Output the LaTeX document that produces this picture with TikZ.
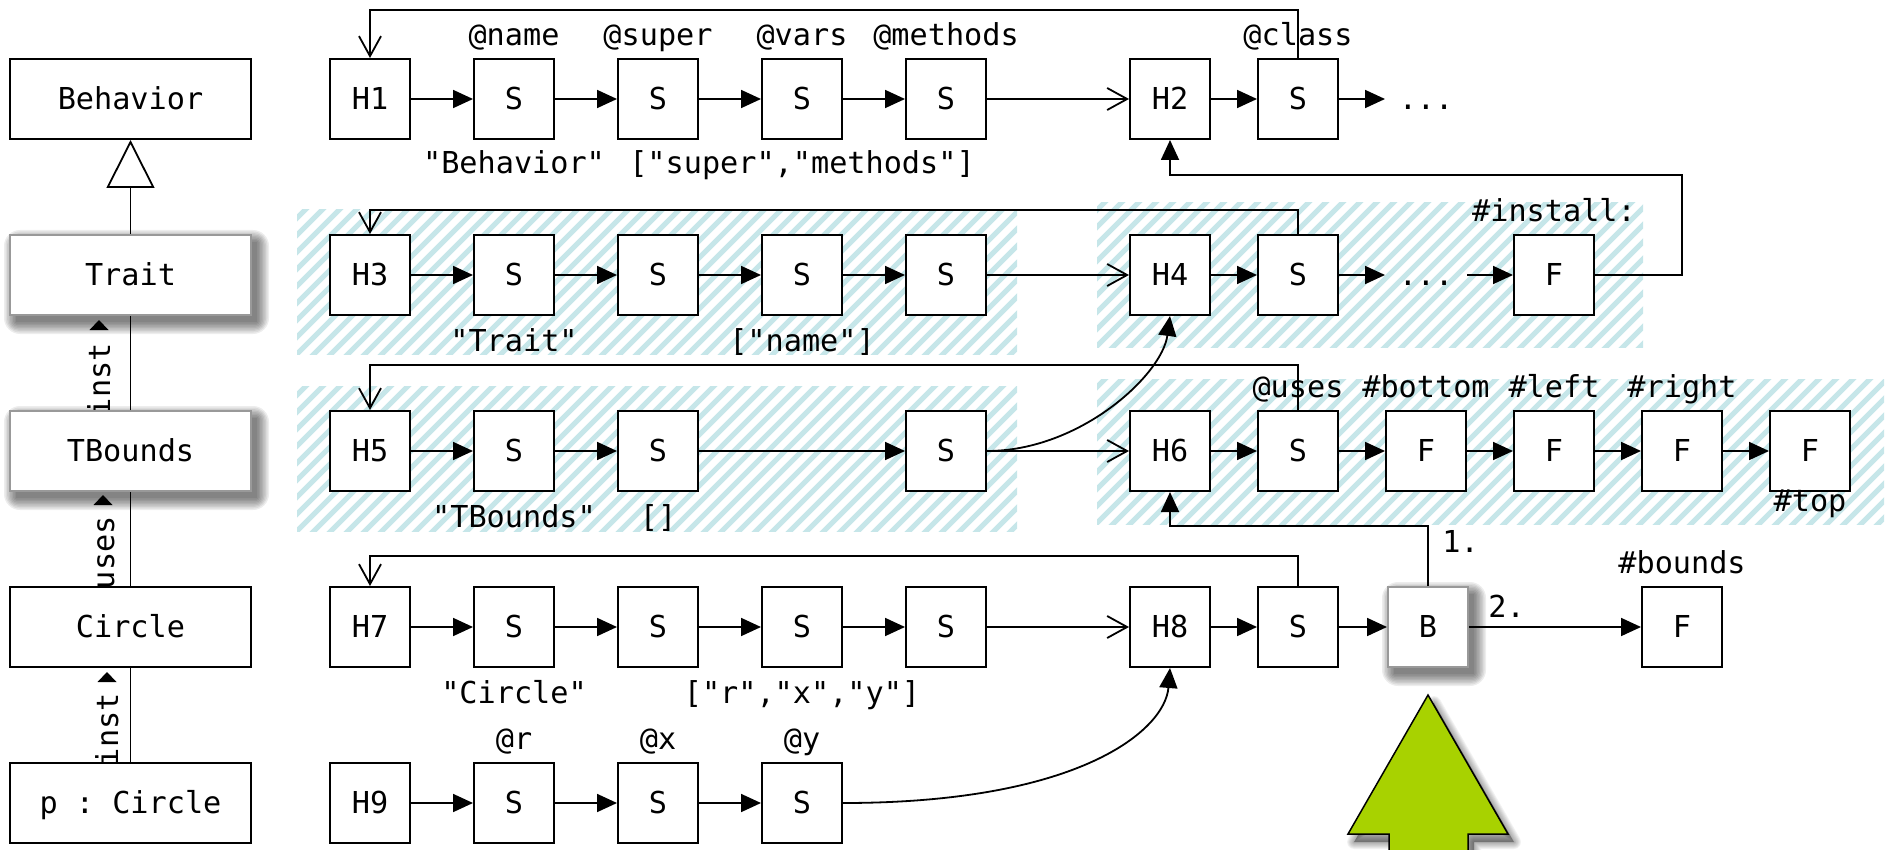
\documentclass[tikz,border=0pt]{standalone}
\usepackage{fontspec}
\setmonofont{DejaVu Sans Mono}
\usetikzlibrary{arrows.meta,calc}
\definecolor{hatchc}{HTML}{C6E6E9}
\definecolor{leaf}{HTML}{A8D200}
\definecolor{edgegray}{HTML}{999999}
\newcommand{\dfs}{\ttfamily\fontsize{15.1pt}{18pt}\selectfont}
\newcommand{\hatchreg}[4]{%
  \begin{scope}
    \clip (#1,#2) rectangle (#3,#4);
    \foreach \t in {100,117,...,1900} {\draw[hatchc,line width=2.6pt] (\t,#4+10) -- ++(200,-200);}
  \end{scope}}
\newcommand{\softbox}[4]{%
  \foreach \k in {0,...,8} {\fill[black,opacity=0.07,rounded corners=\k pt] ({#1+6-1.5*\k},{#2+7-1.5*\k}) rectangle ({#3+6+1.5*\k},{#4+7+1.5*\k});}}
\begin{document}
\begin{tikzpicture}[x=0.5pt,y=-0.5pt,
  cell/.style={draw=black,line width=1pt,fill=white,minimum width=40pt,minimum height=40pt,inner sep=0pt,text height=10.9pt,text depth=0pt,font=\dfs},
  ghost/.style={cell,draw=none,fill=none},
  uml/.style={cell,minimum width=120.5pt},
  lbl/.style={font=\dfs,inner sep=0pt},
  fa/.style={line width=0.9pt,-{Triangle[length=10pt,width=9pt]}},
  oa/.style={line width=0.9pt,-{Straight Barb[length=10pt,width=11pt]}},
  ln/.style={line width=0.9pt}]
\useasboundingbox (0,0) rectangle (1888,850);

% hatched areas
\hatchreg{297}{210}{1017}{354}
\hatchreg{1097}{203}{1643}{347}
\hatchreg{297}{386}{1017}{531}
\hatchreg{1097}{379}{1884}{524}

% soft shadows
\softbox{10}{235}{251}{315}
\softbox{10}{411}{251}{491}
\softbox{1388}{587}{1468}{667}

% rotated association labels (partly hidden by the boxes)
\node[lbl,rotate=90,anchor=base east] (lab1) at (110,343) {inst};
\fill (99,320) -- (108.5,330) -- (89.5,330) -- cycle;
\node[lbl,rotate=90,anchor=base east] (lab2) at (114,516) {uses};
\fill (103,495) -- (112.5,505) -- (93.5,505) -- cycle;
\node[lbl,rotate=90,anchor=base east] (lab3) at (118,693) {inst};
\fill (107,672) -- (116.5,682) -- (97.5,682) -- cycle;

% left column
\node[uml] (beh) at (130.5,99) {Behavior};
\node[uml,draw=edgegray] (trait) at (130.5,275) {Trait};
\node[uml,draw=edgegray] (tbnd) at (130.5,451) {TBounds};
\node[uml] (circ) at (130.5,627) {Circle};
\node[uml] (pcirc) at (130.5,803) {p : Circle};
\draw[line width=0.9pt,-{Triangle[open,length=24pt,width=24pt]}] (trait.north) -- (beh.south);
\draw[ln] (tbnd.north) -- (trait.south);
\draw[ln] (circ.north) -- (tbnd.south);
\draw[ln] (pcirc.north) -- (circ.south);

% row 1
\node[cell] (h1) at (370,99) {H1};
\node[cell] (a1) at (514,99) {S};
\node[cell] (a2) at (658,99) {S};
\node[cell] (a3) at (802,99) {S};
\node[cell] (a4) at (946,99) {S};
\node[cell] (h2) at (1170,99) {H2};
\node[cell] (a5) at (1298,99) {S};
\node[ghost] (a6) at (1426,99) {...};
% row 2
\node[cell] (h3) at (370,275) {H3};
\node[cell] (b1) at (514,275) {S};
\node[cell] (b2) at (658,275) {S};
\node[cell] (b3) at (802,275) {S};
\node[cell] (b4) at (946,275) {S};
\node[cell] (h4) at (1170,275) {H4};
\node[cell] (b5) at (1298,275) {S};
\node[ghost] (b6) at (1426,275) {...};
\node[cell] (b7) at (1554,275) {F};
% row 3
\node[cell] (h5) at (370,451) {H5};
\node[cell] (c1) at (514,451) {S};
\node[cell] (c2) at (658,451) {S};
\node[cell] (c4) at (946,451) {S};
\node[cell] (h6) at (1170,451) {H6};
\node[cell] (c5) at (1298,451) {S};
\node[cell] (c6) at (1426,451) {F};
\node[cell] (c7) at (1554,451) {F};
\node[cell] (c8) at (1682,451) {F};
\node[cell] (c9) at (1810,451) {F};
% row 4
\node[cell] (h7) at (370,627) {H7};
\node[cell] (d1) at (514,627) {S};
\node[cell] (d2) at (658,627) {S};
\node[cell] (d3) at (802,627) {S};
\node[cell] (d4) at (946,627) {S};
\node[cell] (h8) at (1170,627) {H8};
\node[cell] (d5) at (1298,627) {S};
\node[cell,draw=edgegray] (bb) at (1428,627) {B};
\node[cell] (d7) at (1682,627) {F};
% row 5
\node[cell] (h9) at (370,803) {H9};
\node[cell] (e1) at (514,803) {S};
\node[cell] (e2) at (658,803) {S};
\node[cell] (e3) at (802,803) {S};

% chains
\draw[fa] (h1) -- (a1); \draw[fa] (a1) -- (a2); \draw[fa] (a2) -- (a3); \draw[fa] (a3) -- (a4);
\draw[oa] (a4) -- (h2); \draw[fa] (h2) -- (a5); \draw[fa] (a5) -- (a6);
\draw[fa] (h3) -- (b1); \draw[fa] (b1) -- (b2); \draw[fa] (b2) -- (b3); \draw[fa] (b3) -- (b4);
\draw[oa] (b4) -- (h4); \draw[fa] (h4) -- (b5); \draw[fa] (b5) -- (b6); \draw[fa] (b6) -- (b7);
\draw[fa] (h5) -- (c1); \draw[fa] (c1) -- (c2); \draw[fa] (c2) -- (c4);
\draw[oa] (c4) -- (h6); \draw[fa] (h6) -- (c5); \draw[fa] (c5) -- (c6); \draw[fa] (c6) -- (c7);
\draw[fa] (c7) -- (c8); \draw[fa] (c8) -- (c9);
\draw[fa] (h7) -- (d1); \draw[fa] (d1) -- (d2); \draw[fa] (d2) -- (d3); \draw[fa] (d3) -- (d4);
\draw[oa] (d4) -- (h8); \draw[fa] (h8) -- (d5); \draw[fa] (d5) -- (bb); \draw[fa] (bb) -- (d7);
\draw[fa] (h9) -- (e1); \draw[fa] (e1) -- (e2); \draw[fa] (e2) -- (e3);

% class back-pointers
\draw[oa] (a5.north) -- ++(0,-48) -| (h1.north);
\draw[oa] (b5.north) -- ++(0,-24) -| (h3.north);
\draw[oa] (c5.north) -- ++(0,-45) -| (h5.north);
\draw[oa] (d5.north) -- ++(0,-30) -| (h7.north);

% other connectors
\coordinate (k1) at (1682,175);
\draw[fa] (b7.east) -| (k1) -| (h2.south);
\draw[fa] (bb.north) -- ++(0,-60) -| (h6.south);
\draw[fa] (c4.east) .. controls (1080,451) and (1162,375) .. (h4.south);
\draw[fa] (e3.east) .. controls (1080,803) and (1165,730) .. (h8.south);

% labels above
\node[lbl,anchor=base] (ta1) at ($(a1.north)+(0,-12)$) {@name};
\node[lbl,anchor=base] (ta2) at ($(a2.north)+(0,-12)$) {@super};
\node[lbl,anchor=base] (ta3) at ($(a3.north)+(0,-12)$) {@vars};
\node[lbl,anchor=base] (ta4) at ($(a4.north)+(0,-12)$) {@methods};
\node[lbl,anchor=base] (ta5) at ($(a5.north)+(0,-12)$) {@class};
\node[lbl,anchor=base] (tb7) at ($(b7.north)+(0,-13)$) {\#install:};
\node[lbl,anchor=base] (tc5) at ($(c5.north)+(0,-13)$) {@uses};
\node[lbl,anchor=base] (tc6) at ($(c6.north)+(0,-13)$) {\#bottom};
\node[lbl,anchor=base] (tc7) at ($(c7.north)+(0,-13)$) {\#left};
\node[lbl,anchor=base] (tc8) at ($(c8.north)+(0,-13)$) {\#right};
\node[lbl,anchor=base] (td7) at ($(d7.north)+(0,-13)$) {\#bounds};
\node[lbl,anchor=base] (te1) at ($(e1.north)+(0,-13)$) {@r};
\node[lbl,anchor=base] (te2) at ($(e2.north)+(0,-13)$) {@x};
\node[lbl,anchor=base] (te3) at ($(e3.north)+(0,-13)$) {@y};
% labels below
\node[lbl,anchor=base] (ua1) at ($(a1.south)+(0,34)$) {"Behavior"};
\node[lbl,anchor=base] (ua3) at ($(a3.south)+(0,34)$) {["super","methods"]};
\node[lbl,anchor=base] (ub1) at ($(b1.south)+(0,35)$) {"Trait"};
\node[lbl,anchor=base] (ub3) at ($(b3.south)+(0,35)$) {["name"]};
\node[lbl,anchor=base] (uc1) at ($(c1.south)+(0,35)$) {"TBounds"};
\node[lbl,anchor=base] (uc2) at ($(c2.south)+(0,35)$) {[]};
\node[lbl,anchor=base] (uc9) at ($(c9.south)+(0,19)$) {\#top};
\node[lbl,anchor=base] (ud1) at ($(d1.south)+(0,35)$) {"Circle"};
\node[lbl,anchor=base] (ud3) at ($(d3.south)+(0,35)$) {["r","x","y"]};
\node[lbl,anchor=base west] (n1) at (1442,552) {1.};
\node[lbl,anchor=base west] (n2) at (1488,617) {2.};

% big green arrow
\begin{scope}[shift={(6,8)}]
  \foreach \k in {1,...,7} {\draw[black,opacity=0.05,line width=\k pt,line join=round] (1428,695) -- (1508,834) -- (1468,834) -- (1468,880) -- (1389,880) -- (1389,834) -- (1348,834) -- cycle;}
  \fill[black,opacity=0.35] (1428,695) -- (1508,834) -- (1468,834) -- (1468,880) -- (1389,880) -- (1389,834) -- (1348,834) -- cycle;
\end{scope}
\draw[line width=0.75pt,fill=leaf] (1428,695) -- (1508,834) -- (1468,834) -- (1468,880) -- (1389,880) -- (1389,834) -- (1348,834) -- cycle;
\end{tikzpicture}
\end{document}
